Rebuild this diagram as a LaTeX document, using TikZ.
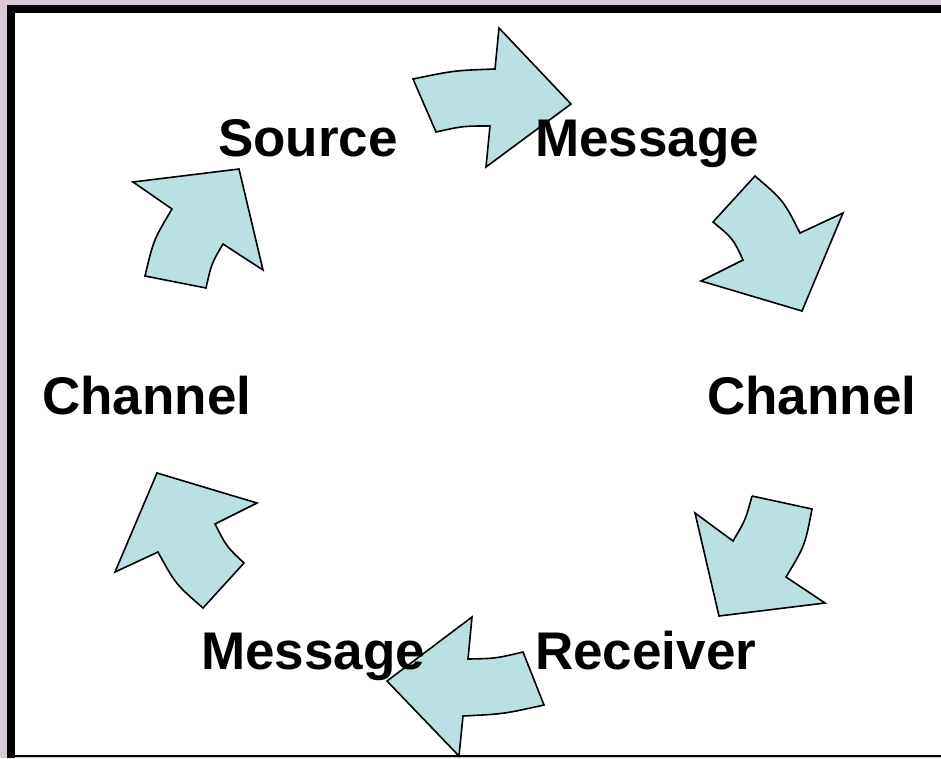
\documentclass[tikz,border=0pt]{standalone}
\usepackage{fontspec}
\setmainfont{Liberation Sans}
\definecolor{arrowfill}{RGB}{187,224,227}
\definecolor{backdrop}{RGB}{218,200,214}
\begin{document}
\begin{tikzpicture}[x=1pt,y=-1pt,
  cyc/.style={draw=black,line width=1.6pt,fill=arrowfill,line join=miter},
  lbl/.style={anchor=base west,inner sep=0pt,font=\fontsize{53}{60}\selectfont\bfseries}]
\useasboundingbox (0,0) rectangle (941,758);
% backdrop and frame
\fill[backdrop] (0,0) rectangle (941,758);
\fill[white] (11,9) rectangle (941,756);
\draw[line width=8pt] (11,758) -- (11,9) -- (941,9);
\draw[line width=1.5pt] (11,756) -- (941,756);
% arrows
\draw[cyc] (413,79) .. controls (454,70.5) .. (495,69) -- (499,28) -- (571,104)
  -- (486,167) -- (490,126) .. controls (463,126) .. (436,132) -- cycle;
\draw[cyc] (755,176) .. controls (783.5,200.5) .. (800,233) -- (843,213) -- (802,311)
  -- (701,281) -- (743,260) .. controls (733,238.5) .. (713,222) -- cycle;
\draw[cyc] (752,496) -- (812,509) .. controls (805,545.5) .. (786,577) -- (825,603)
  -- (719,616) -- (695,513) -- (733,541) .. controls (745.5,520) .. (752,496);
\draw[cyc] (472,617) -- (468,659) .. controls (495.5,658.5) .. (523,652) -- (544,705)
  .. controls (503.5,714) .. (463,716) -- (459,756) -- (387,681) -- cycle;
\draw[cyc] (157,473) -- (257,503) -- (215,524) .. controls (226.5,546.5) .. (244,563)
  -- (203,608) .. controls (175.5,584) .. (158,552) -- (115,572) -- cycle;
\draw[cyc] (133,182) -- (239,169) -- (263,270) -- (223,244) .. controls (211.5,263.5) .. (206,288)
  -- (145,276) .. controls (153.5,240) .. (172,209) -- cycle;
% labels (on top of the arrows)
\node[lbl] (source) at (218,156) {Source};
\node[lbl] (msgtop) at (535,156) {Message};
\node[lbl] (chanr) at (707,414) {Channel};
\node[lbl] (chanl) at (42,414) {Channel};
\node[lbl] (recv) at (535,669) {Receiver};
\node[lbl] (msgbot) at (201,669) {Message};
\end{tikzpicture}
\end{document}
